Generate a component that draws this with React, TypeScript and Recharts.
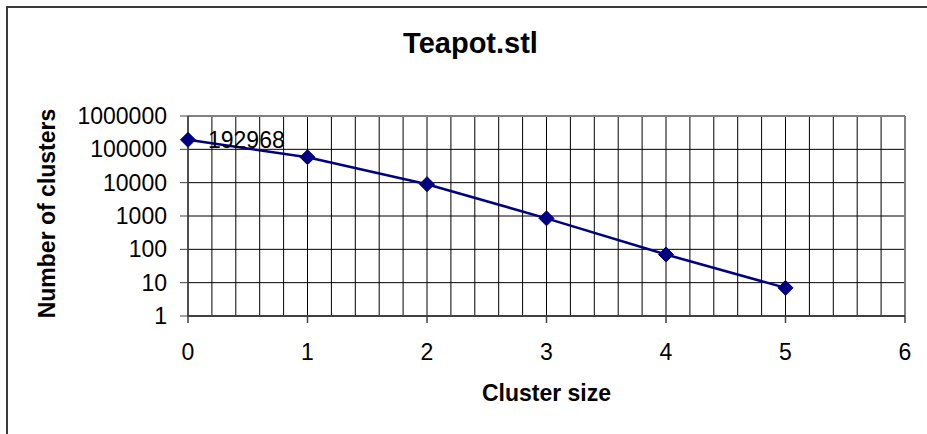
import React from 'react';
import {
  LineChart,
  Line,
  XAxis,
  YAxis,
  CartesianGrid,
  ReferenceLine,
  LabelList,
} from 'recharts';

// ---- data ----
const clusterSizes = [0, 1, 2, 3, 4, 5];
const clusterCounts = [192968, 58000, 9000, 850, 70, 7];
const labeledIndex = 0;

const xTickLabels = [0, 1, 2, 3, 4, 5, 6];
const xMinorPerUnit = 5;
const yTicks = [1, 10, 100, 1000, 10000, 100000, 1000000];

const titleText = 'Teapot.stl';
const xAxisTitle = 'Cluster size';
const yAxisTitle = 'Number of clusters';

const data = clusterSizes.map((s, i) => ({ size: s, count: clusterCounts[i] }));
const xGridValues: number[] = [];
for (let u = xTickLabels[0]; u < xTickLabels[xTickLabels.length - 1]; u++) {
  for (let k = 0; k < xMinorPerUnit; k++) xGridValues.push(u + k / xMinorPerUnit);
}
xGridValues.push(xTickLabels[xTickLabels.length - 1]);

const FONT = '"Liberation Sans", Arial, sans-serif';
const NAVY = '#000080';

const Diamond = (props: any) => {
  const { cx, cy, index } = props;
  if (cx == null || cy == null) return <g key={`d-${index}`} />;
  const r = 7.5;
  return (
    <path
      key={`d-${index}`}
      d={`M${cx},${cy - r} L${cx + r},${cy} L${cx},${cy + r} L${cx - r},${cy} Z`}
      fill={NAVY}
      stroke={NAVY}
      strokeWidth={1}
    />
  );
};

const XTick = (props: any) => {
  const { x, y, payload } = props;
  const v = Math.round(payload.value * 1000) / 1000;
  if (!xTickLabels.includes(v)) return <g />;
  return (
    <g>
      <line x1={x} y1={y} x2={x} y2={y + 7} stroke="#404040" strokeWidth={1.5} />
      <text x={x} y={y + 44} textAnchor="middle" fontSize={23} fill="#000" fontFamily={FONT}>
        {v}
      </text>
    </g>
  );
};

const renderDataLabel = (props: any) => {
  const { x, y, value, index } = props;
  if (index !== labeledIndex) return null;
  return (
    <text x={x + 20} y={y + 8} fontSize={23} fill="#000" fontFamily={FONT}>
      {value}
    </text>
  );
};

export default function App() {
  return (
    <div style={{ position: 'absolute', left: 0, top: 0, width: 927, height: 434, overflow: 'hidden', background: '#fff' }}>
      <div
        style={{
          position: 'absolute',
          left: 6,
          top: 6,
          width: 1200,
          height: 1200,
          border: '2px solid #3a3a3a',
          boxSizing: 'border-box',
        }}
      />
      <div
        style={{
          position: 'absolute',
          left: 370.5,
          width: 200,
          top: 28.5,
          textAlign: 'center',
          fontFamily: FONT,
          fontWeight: 'bold',
          fontSize: 29,
          lineHeight: '29px',
          color: '#000',
        }}
      >
        {titleText}
      </div>
      <div style={{ position: 'absolute', left: 0, top: 0 }}>
        <LineChart
          width={927}
          height={434}
          data={data}
          margin={{ top: 116, right: 22, bottom: 0, left: 0 }}
          style={{ fontFamily: FONT }}
        >
          <CartesianGrid stroke="#000" strokeWidth={1} />
          <XAxis
            dataKey="size"
            type="number"
            domain={[0, 6]}
            ticks={xGridValues}
            interval={0}
            height={118}
            tickSize={0}
            tickMargin={0}
            tickLine={false}
            tick={<XTick />}
            axisLine={{ stroke: '#404040', strokeWidth: 2 }}
            label={{
              value: xAxisTitle,
              content: (p: any) => {
                const vb = p.viewBox;
                return (
                  <text
                    x={vb.x + vb.width / 2}
                    y={vb.y + 85}
                    textAnchor="middle"
                    fontSize={23}
                    fontWeight="bold"
                    fill="#000"
                    fontFamily={FONT}
                  >
                    {xAxisTitle}
                  </text>
                );
              },
            }}
          />
          <YAxis
            dataKey="count"
            scale="log"
            domain={[1, 1000000]}
            ticks={yTicks}
            interval={0}
            allowDataOverflow
            width={188}
            tickSize={8}
            tickMargin={13}
            tick={{ fill: '#000', fontSize: 23, fontFamily: FONT }}
            tickLine={{ stroke: '#404040' }}
            axisLine={{ stroke: '#404040', strokeWidth: 1.5 }}
            label={{
              value: yAxisTitle,
              content: (p: any) => {
                const vb = p.viewBox;
                const cx = vb.x + 55;
                const cy = vb.y + vb.height / 2 - 2.5;
                return (
                  <text
                    x={cx}
                    y={cy}
                    transform={`rotate(-90, ${cx}, ${cy})`}
                    textAnchor="middle"
                    fontSize={23}
                    fontWeight="bold"
                    fill="#000"
                    fontFamily={FONT}
                  >
                    {yAxisTitle}
                  </text>
                );
              },
            }}
          />
          <ReferenceLine y={1000000} stroke="#808080" strokeWidth={2} ifOverflow="visible" />
          <ReferenceLine x={6} stroke="#808080" strokeWidth={2} ifOverflow="visible" />
          <Line
            type="linear"
            dataKey="count"
            stroke={NAVY}
            strokeWidth={2.5}
            dot={Diamond}
            activeDot={false}
            isAnimationActive={false}
          >
            <LabelList dataKey="count" content={renderDataLabel} />
          </Line>
        </LineChart>
      </div>
    </div>
  );
}
